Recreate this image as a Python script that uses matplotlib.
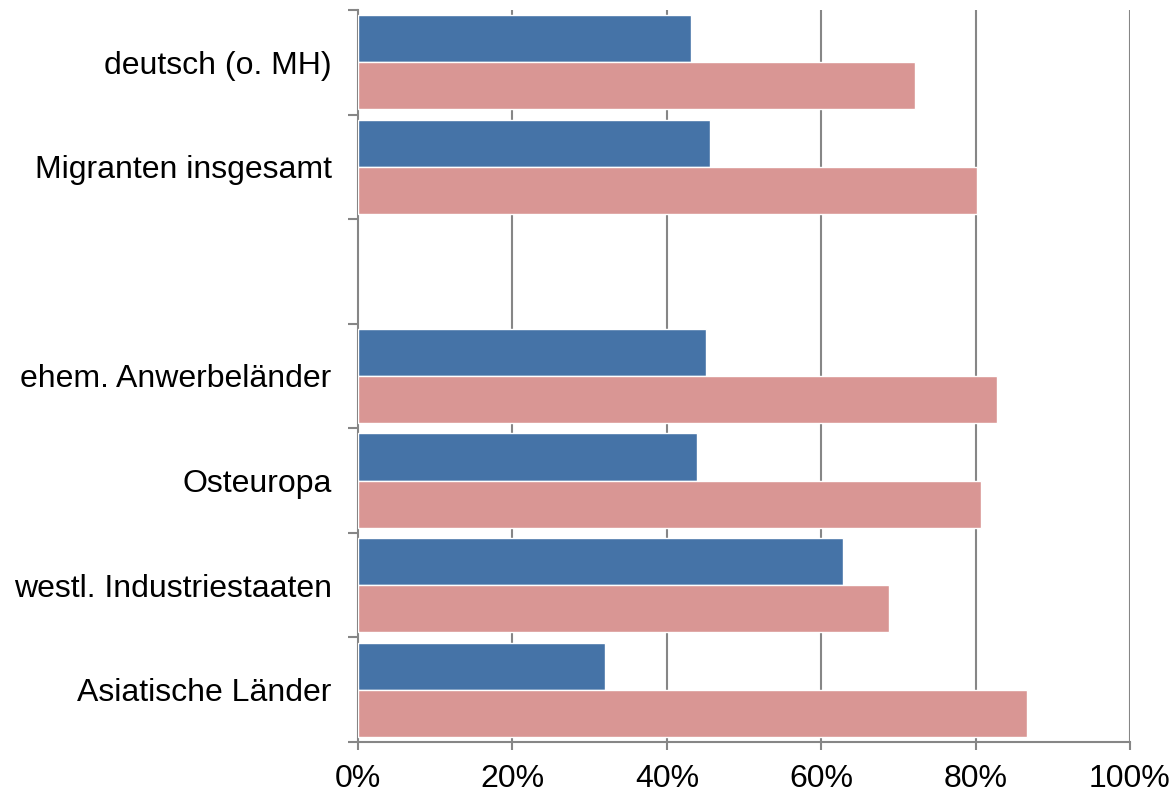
import matplotlib.pyplot as plt
import numpy as np

plt.rcParams['font.family'] = ['Liberation Sans', 'DejaVu Sans']

categories = ['deutsch (o. MH)', 'Migranten insgesamt', '', 'ehem. Anwerbeländer',
              'Osteuropa', 'westl. Industriestaaten', 'Asiatische Länder']
blue_vals = [43.1, 45.6, np.nan, 45.1, 43.9, 62.8, 32.0]
pink_vals = [72.2, 80.2, np.nan, 82.8, 80.7, 68.8, 86.7]
xticks = [0, 20, 40, 60, 80, 100]
xlabels = ['0%', '20%', '40%', '60%', '80%', '100%']

fig = plt.figure(figsize=(11.75, 7.94), dpi=100)
ax = fig.add_axes([0.3047, 0.0655, 0.657, 0.922])

grey = '#868686'
y = np.arange(len(categories))
h = 0.45
ax.barh(y - h / 2, blue_vals, height=h, color='#4573A7', edgecolor='white', linewidth=1, zorder=3)
ax.barh(y + h / 2, pink_vals, height=h, color='#D99694', edgecolor='white', linewidth=1, zorder=3)

ax.set_xlim(0, 100)
ax.set_ylim(len(categories) - 0.5, -0.5)
ax.set_xticks(xticks)
ax.set_xticklabels(xlabels, fontsize=23)
ax.set_yticks(y)
ax.set_yticklabels(categories, fontsize=23)
ax.set_yticks(np.arange(len(categories) + 1) - 0.5, minor=True)

ax.tick_params(axis='y', which='major', length=0, pad=19)
ax.tick_params(axis='y', which='minor', length=7, width=1.5, color=grey, direction='out')
ax.tick_params(axis='x', which='major', length=6, width=1.5, color=grey, pad=10)

for v in xticks[1:]:
    ax.axvline(v, color=grey, linewidth=1.5, zorder=1)

for s in ['top', 'right']:
    ax.spines[s].set_visible(False)
for s in ['left', 'bottom']:
    ax.spines[s].set_color(grey)
    ax.spines[s].set_linewidth(1.5)

plt.savefig('out.png')
